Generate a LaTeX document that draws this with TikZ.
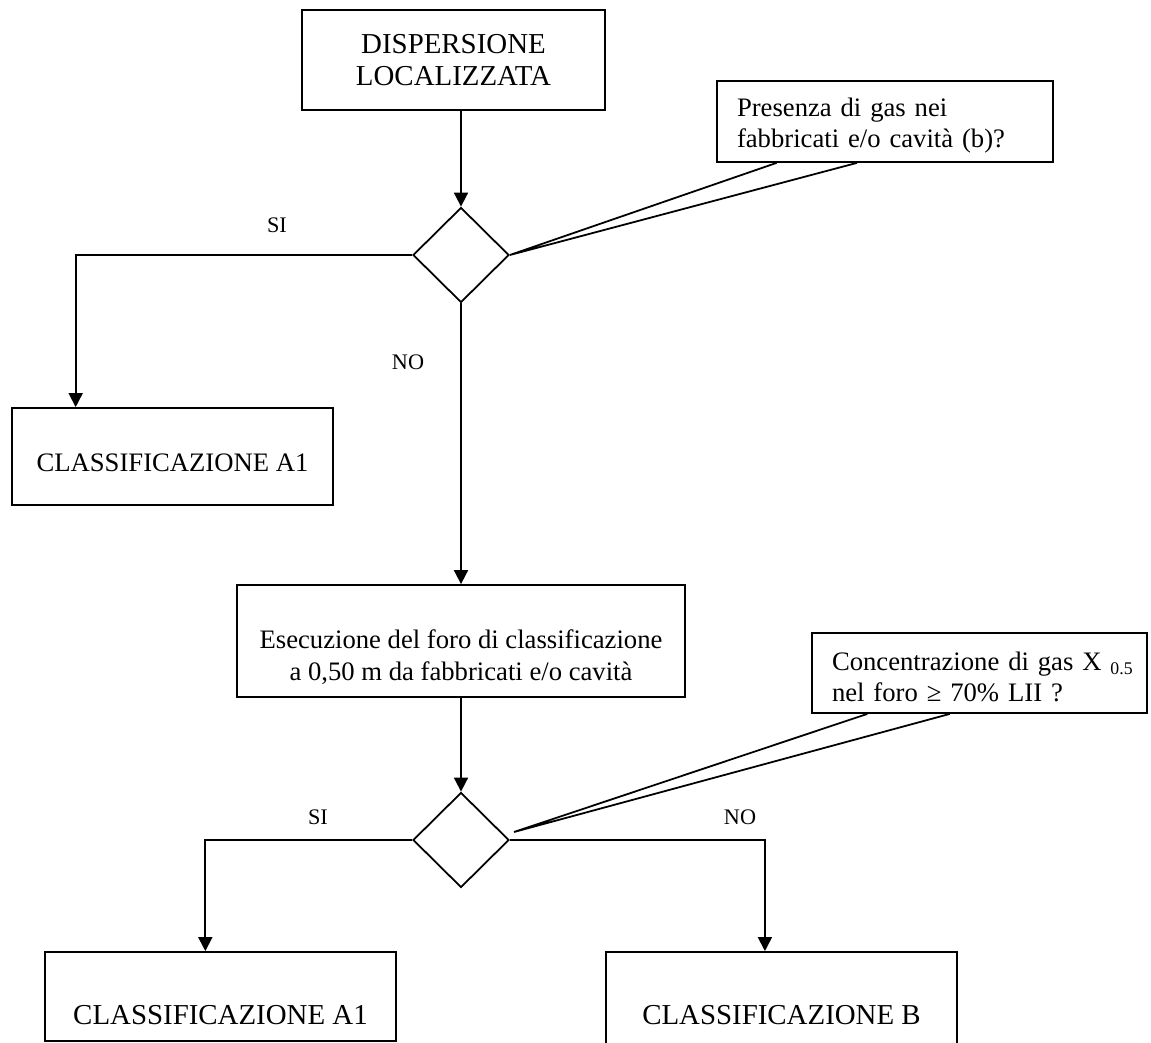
\documentclass[tikz,border=0pt]{standalone}
\usepackage{fontspec}
\setmainfont{Liberation Serif}
\usetikzlibrary{shapes.geometric,arrows.meta,calc}
\newdimen\pu
\pu=0.45pt

\begin{document}
\begin{tikzpicture}[x=0.45pt, y=-0.45pt,
  box/.style={draw, line width=0.8pt, inner sep=0pt, align=center,
              font=\fontsize{13}{14.6}\selectfont},
  qbox/.style={draw, line width=0.8pt, inner xsep=20\pu, inner ysep=0pt,
               text width=296\pu, align=left,
               font=\fontsize{12}{14}\selectfont},
  test/.style={draw, diamond, line width=0.8pt, inner sep=0pt,
               minimum width=96\pu, minimum height=95\pu},
  lbl/.style={font=\fontsize{10}{12}\selectfont, inner sep=0pt},
  arrow/.style={-{Triangle[length=6.3pt, width=6.3pt]}, line width=0.8pt},
  link/.style={line width=0.8pt}
]
\useasboundingbox (0,0) rectangle (1151,1043);

\node[box, minimum width=303\pu, minimum height=100\pu] (disp) at (453.5,60) {DISPERSIONE\\LOCALIZZATA};
\node[test] (d1) at (461,255) {};
\node[qbox, minimum height=81\pu] (q1) at (885,121.5) {\rule{0pt}{12pt}Presenza di gas nei\\fabbricati e/o cavità (b)?};
\node[box, font=\fontsize{12}{14}\selectfont, minimum width=321\pu, minimum height=97\pu] (a1) at (172.5,456.5) {\rule{0pt}{14pt}CLASSIFICAZIONE A1};
\node[box, font=\fontsize{12}{14}\selectfont, minimum width=448\pu, minimum height=112\pu] (hole) at (461,641) {\rule{0pt}{23pt}Esecuzione del foro di classificazione\\a 0,50 m da fabbricati e/o cavità};
\node[test] (d2) at (461,840) {};
\node[qbox, minimum height=80\pu, text width=295\pu] (q2) at (979.5,673) {\rule{0pt}{12pt}\mbox{Concentrazione di gas X~\textsubscript{0.5}}\\nel foro ≥ 70\% LII ?};
\node[box, minimum width=351\pu, minimum height=89\pu, text height=57\pu] (a1b) at (220.5,996.5) {CLASSIFICAZIONE A1};
\node[box, minimum width=351\pu, minimum height=126\pu] (clb) at (781.5,1015) {CLASSIFICAZIONE B};

\node[lbl] (si1) at (277,225) {SI};
\node[lbl] (no1) at (408,362) {NO};
\node[lbl] (si2) at (318,817) {SI};
\node[lbl] (no2) at (740,817) {NO};

\draw[arrow] (d1 |- disp.south) -- (d1.north);
\draw[arrow] (d1.west) -| ($(a1.north west)!0.2!(a1.north east)$);
\draw[arrow] (d1.south) -- (hole.north);
\draw[arrow] (hole.south) -- (d2.north);
\draw[arrow] (d2.west) -| ($(a1b.north west)!0.457!(a1b.north east)$);
\draw[arrow] (d2.east) -| ($(clb.north west)!0.453!(clb.north east)$);

\coordinate (tip2) at (514,832);
\draw[link] ($(q1.south west)!0.179!(q1.south east)$) -- (d1.east) -- ($(q1.south west)!0.417!(q1.south east)$);
\draw[link] ($(q2.south west)!0.167!(q2.south east)$) -- (tip2) -- ($(q2.south west)!0.412!(q2.south east)$);

\end{tikzpicture}
\end{document}
